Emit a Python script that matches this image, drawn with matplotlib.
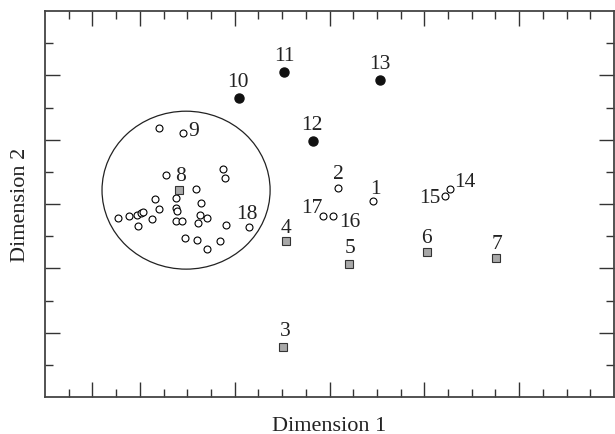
import numpy as np
import matplotlib.pyplot as plt
from matplotlib.patches import Ellipse
from matplotlib.ticker import FixedLocator

plt.rcParams['font.family'] = ['Liberation Serif', 'DejaVu Serif']

# unlabelled open circles inside the ring
cluster_x = [4.81, 5.10, 7.52, 7.60, 6.36, 4.65, 5.53, 6.57, 4.82, 5.53,
             5.55, 3.08, 3.56, 3.87, 4.04, 4.12, 3.94, 4.51, 5.53, 5.78,
             6.54, 6.82, 6.44, 7.65, 5.90, 6.40, 6.85, 7.39]
cluster_y = [8.35, 6.91, 7.09, 6.82, 6.46, 6.15, 6.18, 6.03, 5.83, 5.87,
             5.79, 5.55, 5.63, 5.65, 5.71, 5.75, 5.32, 5.52, 5.46, 5.47,
             5.65, 5.57, 5.40, 5.36, 4.93, 4.89, 4.60, 4.86]

# labelled open circles
open_lab = ['1', '2', '9', '14', '15', '16', '17', '18']
open_x = [13.85, 12.36, 5.82, 17.08, 16.86, 12.13, 11.74, 8.62]
open_y = [6.08, 6.49, 8.20, 6.47, 6.24, 5.64, 5.62, 5.29]

# filled circles
fill_lab = ['10', '11', '12', '13']
fill_x = [8.20, 10.08, 11.29, 14.13]
fill_y = [9.30, 10.10, 7.97, 9.86]

# grey squares
sq_lab = ['3', '4', '5', '6', '7', '8']
sq_x = [10.04, 10.16, 12.81, 16.10, 19.02, 5.66]
sq_y = [1.55, 4.86, 4.14, 4.52, 4.31, 6.44]

# label offsets in pixels
offsets = {'1': (2, 13), '2': (0, 15), '9': (11, 3), '14': (15, 7),
           '15': (-15, -1), '16': (17, -6), '17': (-11, 9), '18': (-2, 13),
           '10': (-1, 16), '11': (0, 17), '12': (-1, 16), '13': (0, 16),
           '3': (2, 17), '4': (0, 13), '5': (1, 16), '6': (0, 14),
           '7': (1, 15), '8': (1, 14)}

fig = plt.figure(figsize=(6.15, 4.35), dpi=100)
ax = fig.add_axes([45/615, 1-398/435, 569/615, 386/435])

ax.add_patch(Ellipse((5.95, 6.43), 7.09, 4.91, fill=False, ec='#222222', lw=0.9))

ax.plot(cluster_x, cluster_y, 'o', ms=5, mfc='white', mec='black', mew=0.8)
ax.plot(open_x, open_y, 'o', ms=5, mfc='white', mec='black', mew=0.8)
ax.plot(fill_x, fill_y, 'o', ms=6.5, mfc='#111111', mec='#111111')
ax.plot(sq_x, sq_y, 's', ms=5.5, mfc='#a8a8a8', mec='#333333', mew=0.8)

for labs, xs, ys in [(open_lab, open_x, open_y), (fill_lab, fill_x, fill_y),
                     (sq_lab, sq_x, sq_y)]:
    for lab, x, y in zip(labs, xs, ys):
        ax.annotate(lab, (x, y), xytext=offsets[lab], textcoords='offset pixels',
                    ha='center', va='center', fontsize=15.5, color='#222222')

ax.set_xlim(0, 24)
ax.set_ylim(0, 12)

ax.xaxis.set_major_locator(FixedLocator([2, 4, 8, 12, 16, 20]))
ax.xaxis.set_minor_locator(FixedLocator([1, 3, 5, 6, 7, 9, 10, 11, 13, 14, 15,
                                         17, 18, 19, 21, 22, 23]))
ax.yaxis.set_major_locator(FixedLocator([2, 4, 6, 8, 10]))
ax.yaxis.set_minor_locator(FixedLocator([1, 3, 5, 7, 9, 11]))
ax.tick_params(which='both', direction='in', top=True, right=True,
               labelbottom=False, labelleft=False, color='#333333', width=1.0)
ax.tick_params(which='major', length=11)
ax.tick_params(which='minor', length=5.8)
for sp in ax.spines.values():
    sp.set_color('#444444')
    sp.set_linewidth(1.3)

ax.set_xlabel('Dimension 1', fontsize=16, labelpad=14, color='#222222')
ax.set_ylabel('Dimension 2', fontsize=16, labelpad=11, color='#222222')

fig.savefig('out.png', dpi=100)
